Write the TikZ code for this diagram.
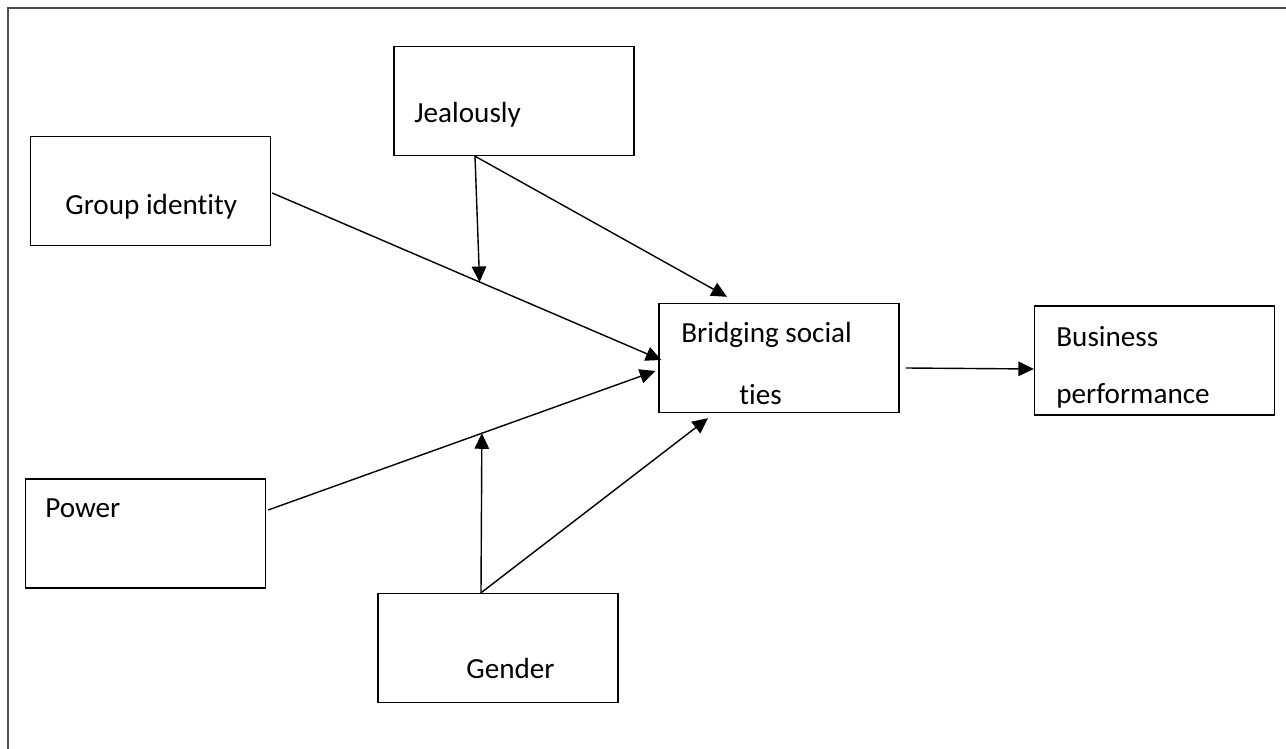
\documentclass[tikz,border=0pt]{standalone}
\usepackage{fontspec}
\setmainfont{Carlito}[Ligatures=NoCommon]
\usetikzlibrary{calc,arrows.meta}

\tikzset{
    box/.style={draw, line width=0.8pt, minimum width=4.8cm, minimum height=2.18cm, inner sep=0pt},
    lbl/.style={anchor=west, inner sep=0pt, font=\fontsize{16.6}{20}\selectfont},
    arr/.style={line width=0.8pt, -{Triangle[length=0.31cm, width=0.29cm]}},
    frame/.style={line width=1.6pt, draw=black!70}
}

\begin{document}
\begin{tikzpicture}[x=0.02cm, y=-0.02cm]

            \useasboundingbox (0,0) rectangle (1286,749);

            \draw [frame] (8,749) -- (8,8) -- (1286,8);

            \node (grp) [box] at (150.5,191) {};
            \node (jel) [box] at (514,101) {};
            \node (pow) [box] at (145.5,533.5) {};
            \node (gen) [box] at (498,648) {};
            \node (brg) [box] at (779,358) {};
            \node (bus) [box] at (1154.5,360.5) {};

            \node (grplbl) [lbl] at (65,207) {Group identity};
            \node (jellbl) [lbl] at (414,115) {Jealously};
            \node (powlbl) [lbl] at (45,508) {Power};
            \node (genlbl) [lbl] at (466,668) {Gender};
            \node (brglbl) [lbl] at (681,335) {Bridging social};
            \node (tieslbl) [lbl] at (739,395) {ties};
            \node (buslbl) [lbl] at (1056,337) {Business};
            \node (perflbl) [lbl] at (1056,396) {performance};

            \coordinate (jelfoot) at ($(jel.south)+(-39,0)$);
            \coordinate (genfoot) at ($(gen.north)+(-17,0)$);

            \draw [arr] ($(grp.east)+(1,2)$) -- ($(brg.west)+(3,2)$) coordinate [pos=0.533] (grpmid);
            \draw [arr] ($(pow.east)+(2,-23.5)$) -- ($(brg.west)+(-3,13)$) coordinate [pos=0.552] (powmid);

            \draw [arr] (jelfoot) -- (grpmid);
            \draw [arr] (jelfoot) -- ($(brg.north)+(-52,-6)$);

            \draw [arr] (genfoot) -- (powmid);
            \draw [arr] (genfoot) -- ($(brg.south)+(-71,5)$);

            \draw [arr] ($(brg.east)+(6,10)$) -- ($(bus.west)+(0,8.5)$);

        \end{tikzpicture}
\end{document}
